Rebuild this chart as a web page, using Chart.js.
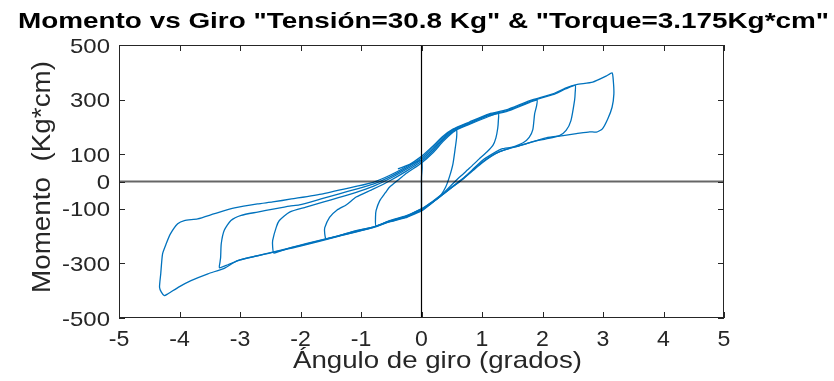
<!DOCTYPE html>
<html>
<head>
<meta charset="utf-8">
<script src="https://cdn.jsdelivr.net/npm/chart.js@4.4.1/dist/chart.umd.min.js"></script>
<style>
html, body { margin: 0; padding: 0; background: #fff; }
canvas { display: block; }
</style>
</head>
<body>
<canvas id="grafico" width="834" height="381"></canvas>
<script>
// Puntos [giro (grados), momento (Kg*cm)], ciclo por ciclo
const inicio = [[-0.39,46],[-0.25,58],[-0.10,70],[0.00,78],[0.01,50],[0.00,16],[0.00,-40],[0.00,-100]];

const ciclo1 = [[0.00,-100],[-0.25,-125],[-0.53,-143],[-0.75,-163],[-0.76,-130],[-0.75,-106],[-0.69,-70],
    [-0.60,-42],[-0.53,-21],[-0.36,10],[-0.25,30],[0.00,68],[0.19,105],[0.35,145],[0.52,180],[0.58,188],
    [0.58,160],[0.56,126],[0.52,65],[0.46,16],[0.40,-20],[0.30,-55],[0.15,-80],[0.00,-100]];

const ciclo2 = [[0.00,-100],[-0.25,-127],[-0.53,-145],[-0.80,-167],[-1.08,-180],[-1.36,-198],[-1.52,-207],
    [-1.58,-210],[-1.60,-190],[-1.60,-170],[-1.52,-131],[-1.40,-105],[-1.24,-85],[-1.08,-57],[-0.80,-28],
    [-0.53,2],[-0.25,38],[0.00,74],[0.19,112],[0.35,150],[0.52,183],[0.79,209],[1.12,239],[1.27,250],
    [1.27,222],[1.26,195],[1.23,160],[1.18,132],[1.08,108],[0.95,82],[0.80,50],[0.65,20],[0.50,-12],
    [0.35,-45],[0.15,-78],[0.00,-102]];

const ciclo3 = [[0.00,-102],[-0.25,-128],[-0.53,-146],[-0.80,-167],[-1.08,-181],[-1.36,-198],[-1.91,-228],
    [-2.20,-245],[-2.44,-262],[-2.46,-240],[-2.46,-216],[-2.40,-167],[-2.35,-143],[-2.18,-112],[-1.91,-94],
    [-1.63,-76],[-1.36,-58],[-1.08,-40],[-0.80,-18],[-0.53,10],[-0.25,45],[0.00,80],[0.19,118],[0.35,155],
    [0.52,186],[0.79,212],[1.12,242],[1.40,256],[1.79,290],[1.91,298],[1.90,275],[1.87,248],[1.84,190],
    [1.78,162],[1.68,142],[1.50,125],[1.30,110],[1.15,92],[1.00,68],[0.85,40],[0.70,12],[0.50,-22],
    [0.30,-57],[0.15,-82],[0.00,-104]];

const ciclo4 = [[0.00,-104],[-0.25,-130],[-0.53,-147],[-0.80,-168],[-1.36,-199],[-1.91,-229],[-2.46,-259],
    [-2.71,-272],[-3.00,-287],[-3.20,-305],[-3.34,-316],[-3.33,-295],[-3.32,-277],[-3.31,-228],[-3.26,-179],
    [-3.15,-143],[-2.98,-124],[-2.71,-112],[-2.43,-100],[-2.18,-90],[-2.02,-86],[-1.63,-62],[-1.36,-45],
    [-1.08,-28],[-0.80,-10],[-0.53,16],[-0.25,50],[0.00,86],[0.19,124],[0.35,160],[0.52,189],[0.79,215],
    [1.12,245],[1.40,259],[1.79,293],[2.17,318],[2.39,340],[2.54,352],[2.54,325],[2.53,297],[2.47,223],
    [2.39,187],[2.28,168],[2.06,156],[1.85,146],[1.60,130],[1.40,118],[1.20,100],[1.01,72],[0.85,43],
    [0.70,14],[0.50,-20],[0.30,-55],[0.15,-82],[0.00,-106]];

const ciclo5 = [[0.00,-106],[-0.25,-131],[-0.53,-148],[-0.80,-169],[-1.36,-200],[-2.02,-238],[-2.46,-260],
    [-3.04,-290],[-3.26,-318],[-3.53,-338],[-3.81,-363],[-4.00,-385],[-4.19,-411],[-4.25,-418],[-4.30,-405],
    [-4.33,-387],[-4.31,-338],[-4.28,-265],[-4.22,-228],[-4.15,-192],[-4.03,-155],[-3.92,-143],[-3.70,-137],
    [-3.42,-118],[-3.09,-97],[-2.71,-82],[-2.46,-75],[-2.15,-64],[-1.63,-45],[-1.08,-18],[-0.80,-3],
    [-0.53,22],[-0.25,55],[0.00,92],[0.19,130],[0.35,165],[0.52,192],[0.79,218],[1.12,248],[1.40,262],
    [1.79,296],[2.17,321],[2.39,343],[2.56,355],[2.83,364],[3.05,386],[3.15,398],[3.17,370],[3.18,321],
    [3.15,272],[3.08,230],[2.99,193],[2.89,181],[2.78,182],[2.56,175],[2.34,168],[2.06,160],[1.90,150],
    [1.73,138],[1.57,128],[1.34,120],[1.18,102],[1.01,78],[0.85,45],[0.70,12],[0.50,-22],[0.30,-57],
    [0.15,-82],[0.00,-108],[-0.25,-132]];

// Ejes de referencia (x=0, y=0)
const ejeHorizontal = [[-5,0],[5,0]];
const ejeVertical = [[0,-500],[0,500]];

const ticksGiro = [-5,-4,-3,-2,-1,0,1,2,3,4,5];
const ticksMomento = [500,300,100,0,-100,-300,-500];

const titulo = 'Momento vs Giro "Tensión=30.8 Kg" & "Torque=3.175Kg*cm"';
const tituloX = 'Ángulo de giro (grados)';
const tituloY = 'Momento  (Kg*cm)';

const azul = 'rgb(0,114,189)';
const ciclos = [inicio, ciclo1, ciclo2, ciclo3, ciclo4, ciclo5];

const aPuntos = arr => arr.map(p => ({ x: p[0], y: p[1] }));

const datasets = [
    { data: aPuntos(ejeHorizontal), borderColor: 'rgba(0,0,0,0.6)', borderWidth: 2, tension: 0 },
    { data: aPuntos(ejeVertical), borderColor: '#000', borderWidth: 1.2, tension: 0 }
].concat(ciclos.map(c => ({ data: aPuntos(c), borderColor: azul, borderWidth: 1.3, tension: 0.2 })));

datasets.forEach(d => { d.showLine = true; d.pointRadius = 0; d.fill = false; });

// Texto estirado en horizontal, como en la figura original
function texto(ctx, str, x, y, font, k, align, rot) {
    ctx.save();
    ctx.font = font;
    ctx.translate(x, y);
    if (rot) ctx.rotate(rot);
    ctx.scale(k, 1);
    ctx.textAlign = align;
    ctx.textBaseline = 'alphabetic';
    ctx.fillText(str, 0, 0);
    ctx.restore();
}

function textoAjustado(ctx, str, x, y, font, ancho, align, rot) {
    ctx.save();
    ctx.font = font;
    const w = ctx.measureText(str).width;
    ctx.restore();
    texto(ctx, str, x, y, font, ancho / w, align, rot);
}

const estiloMatlab = {
    id: 'estiloMatlab',
    afterDraw(chart) {
        const ctx = chart.ctx;
        const a = chart.chartArea;
        const sx = chart.scales.x, sy = chart.scales.y;
        ctx.save();

        // caja y marcas hacia dentro
        ctx.strokeStyle = '#262626';
        ctx.lineWidth = 1;
        ctx.strokeRect(a.left + 0.5, a.top + 0.5, a.right - a.left - 1, a.bottom - a.top - 1);
        ctx.beginPath();
        ticksGiro.forEach(v => {
            const px = Math.round(sx.getPixelForValue(v)) + 0.5;
            ctx.moveTo(px, a.bottom); ctx.lineTo(px, a.bottom - 6);
            ctx.moveTo(px, a.top); ctx.lineTo(px, a.top + 6);
        });
        ticksMomento.forEach(v => {
            const py = Math.round(sy.getPixelForValue(v)) + 0.5;
            ctx.moveTo(a.left, py); ctx.lineTo(a.left + 6, py);
            ctx.moveTo(a.right, py); ctx.lineTo(a.right - 6, py);
        });
        ctx.stroke();

        // etiquetas de las marcas
        ctx.fillStyle = '#262626';
        ticksGiro.forEach(v => {
            texto(ctx, String(v), sx.getPixelForValue(v), 346, '22px "Liberation Sans", Arial, sans-serif', 1.05, 'center');
        });
        ticksMomento.forEach(v => {
            texto(ctx, String(v), 110, sy.getPixelForValue(v) + 7.5, '21px "Liberation Sans", Arial, sans-serif', 1.14, 'right');
        });

        // títulos
        textoAjustado(ctx, tituloX, 437.5, 368, '24px "Liberation Sans", Arial, sans-serif', 289, 'center');
        textoAjustado(ctx, tituloY, 50, 177, '25px "Liberation Sans", Arial, sans-serif', 232, 'center', -Math.PI / 2);
        ctx.fillStyle = '#000';
        textoAjustado(ctx, titulo, 423.5, 28, 'bold 22px "Liberation Sans", Arial, sans-serif', 811, 'center');

        ctx.restore();
    }
};

new Chart(document.getElementById('grafico'), {
    type: 'scatter',
    data: { datasets: datasets },
    options: {
        responsive: false,
        animation: false,
        devicePixelRatio: 1,
        layout: { padding: { top: 45, right: 110, left: 0, bottom: 0 } },
        plugins: {
            legend: { display: false },
            tooltip: { enabled: false },
            title: { display: false }
        },
        scales: {
            x: {
                type: 'linear', min: -5, max: 5,
                ticks: { display: false, stepSize: 1 },
                grid: { display: false },
                border: { display: false },
                afterFit: s => { s.height = 63; }
            },
            y: {
                type: 'linear', min: -500, max: 500,
                afterBuildTicks: s => { s.ticks = ticksMomento.map(v => ({ value: v })); },
                ticks: { display: false },
                grid: { display: false },
                border: { display: false },
                afterFit: s => { s.width = 119; }
            }
        }
    },
    plugins: [estiloMatlab]
});
</script>
</body>
</html>
